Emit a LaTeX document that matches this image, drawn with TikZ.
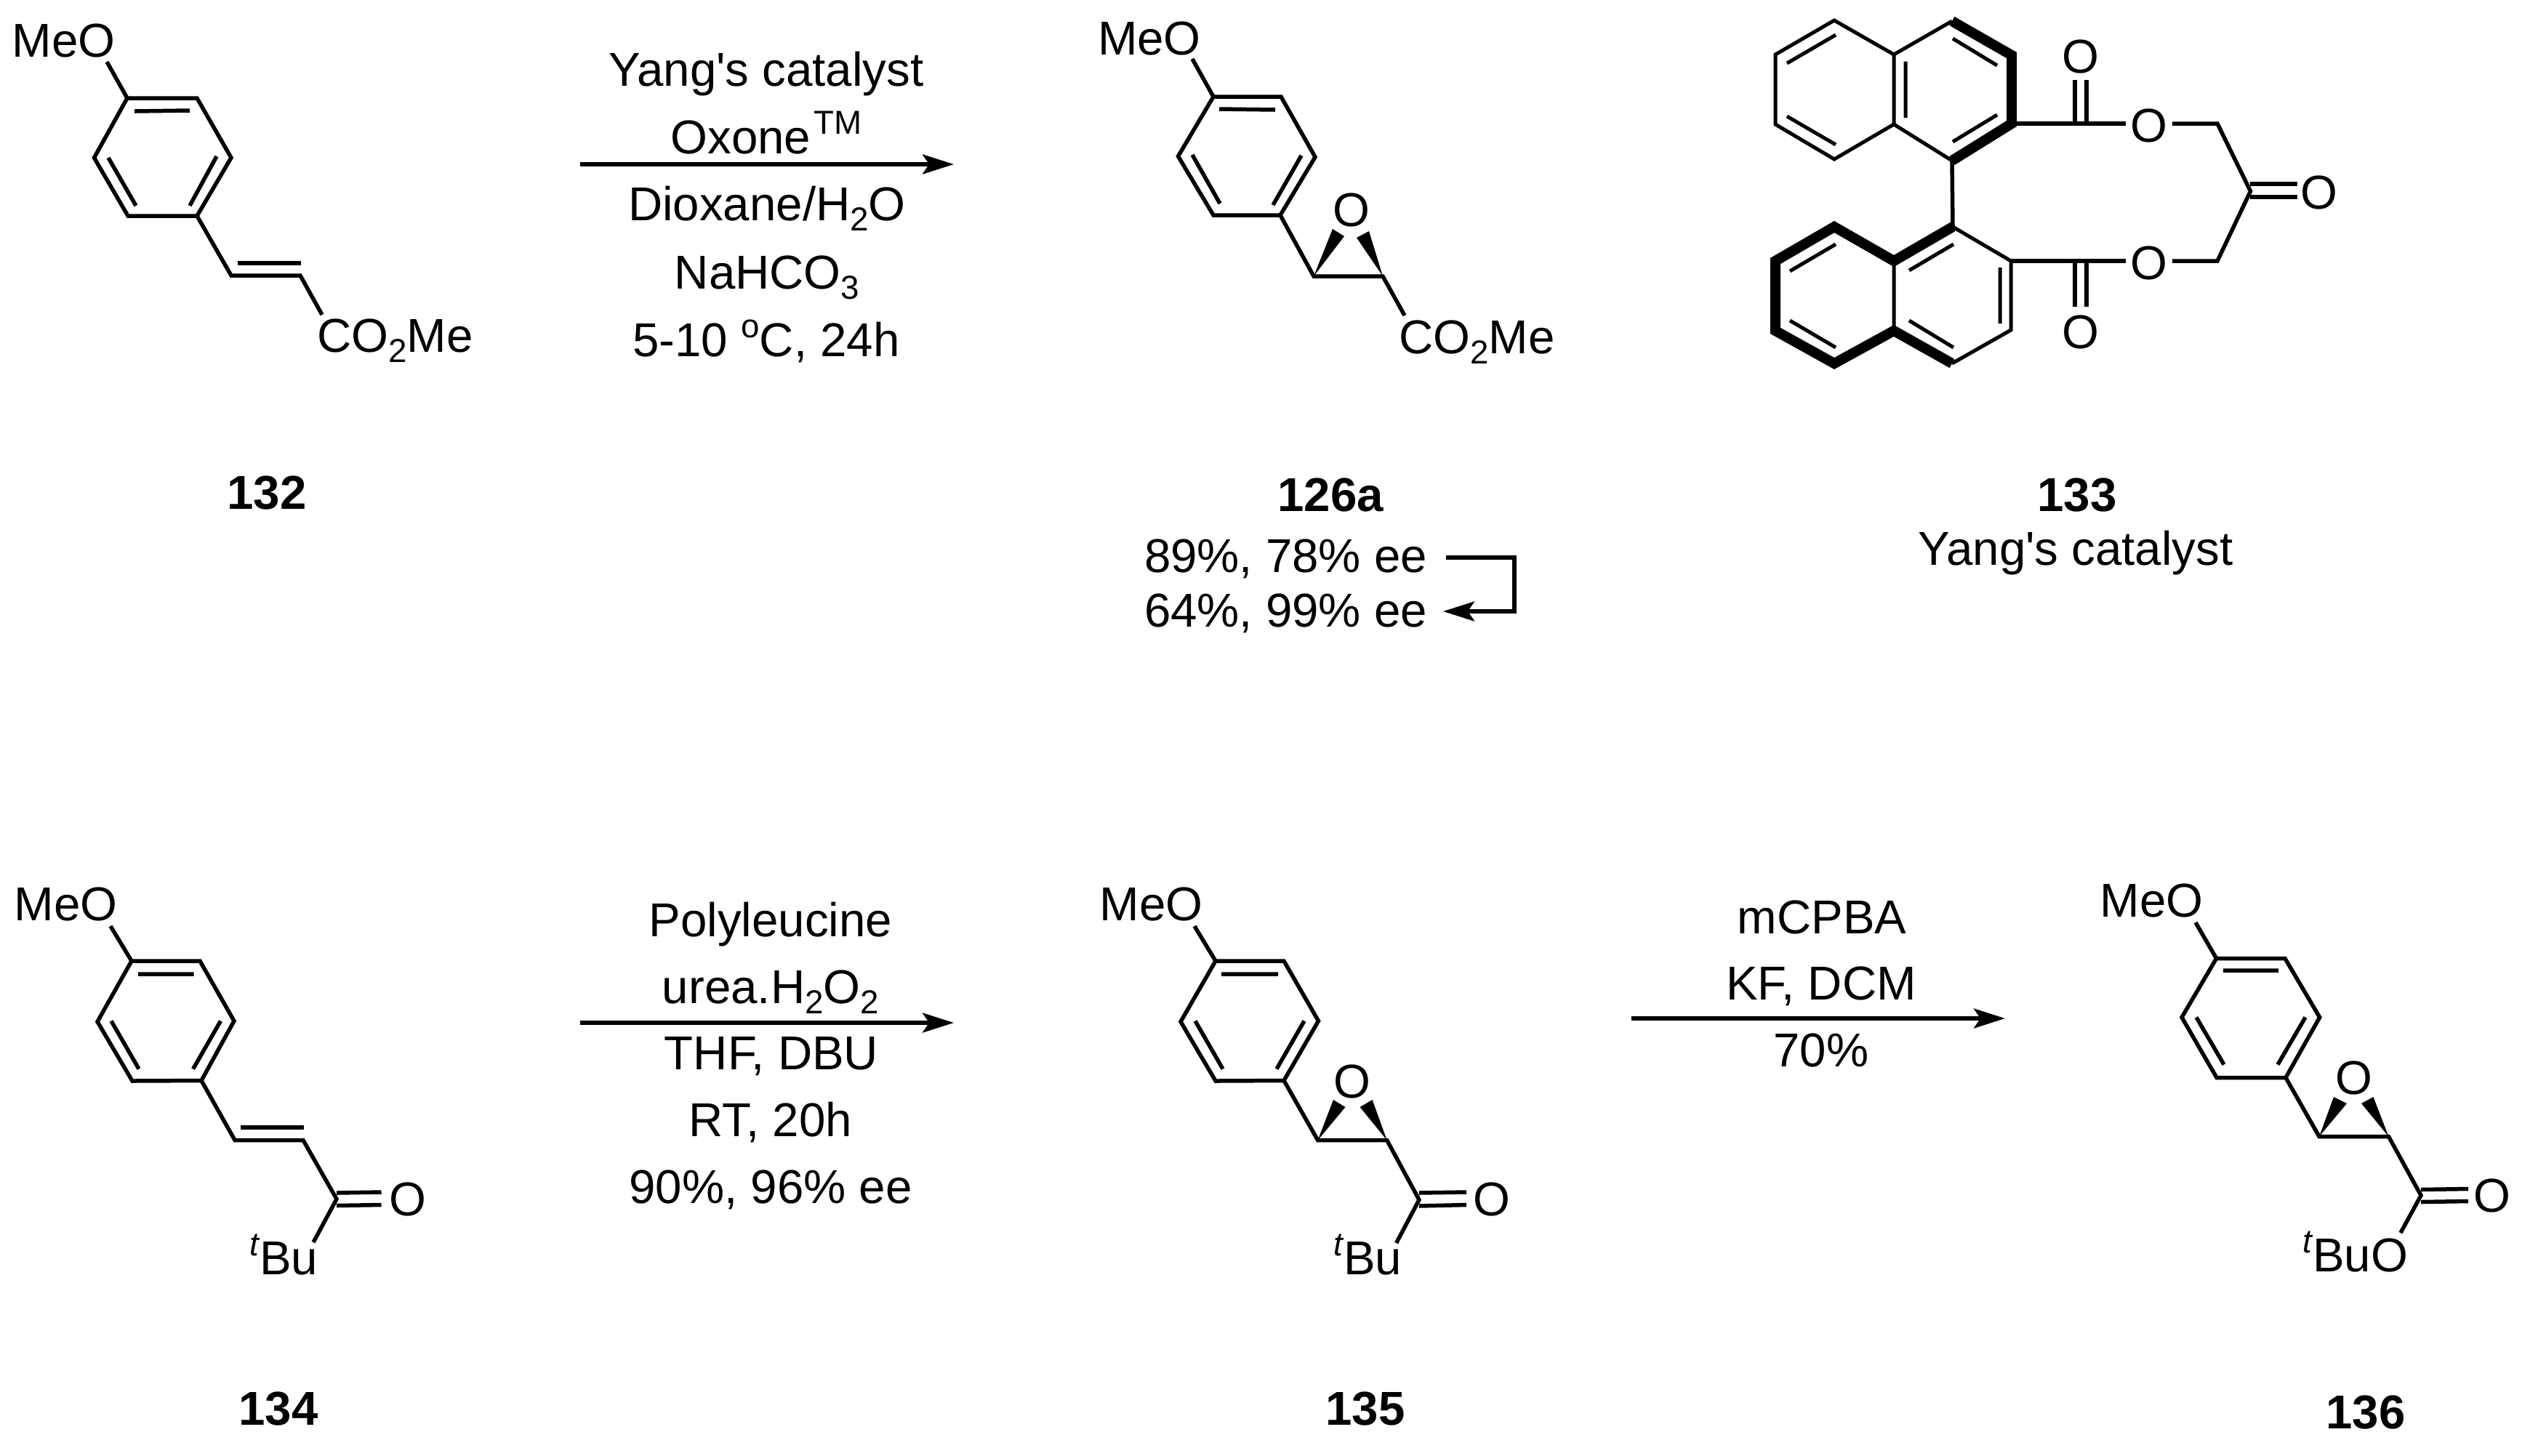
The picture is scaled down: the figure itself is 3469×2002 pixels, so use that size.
\documentclass[tikz,border=0pt]{standalone}
\usepackage{fontspec}
\setmainfont{Liberation Sans}
\font\qf="Liberation Sans" at 18.6pt
\newcommand{\apos}{{\qf '}}
\usetikzlibrary{arrows.meta}
\newcommand{\sbs}[1]{\raisebox{-0.14cm}{\fontsize{13}{14}\selectfont #1}}
\newcommand{\sps}[1]{\raisebox{0.26cm}{\fontsize{13}{14}\selectfont #1}}
\tikzset{
  bond/.style={line width=0.055cm,line cap=butt,line join=miter},
  thinb/.style={line width=0.05cm,line cap=butt,line join=miter},
  bold/.style={line width=0.14cm,line cap=butt,line join=miter,miter limit=10},
  wedge/.style={fill=black,draw=none},
  rxn/.style={line width=0.052cm,-{Stealth[length=0.43cm,width=0.27cm,inset=0.09cm]}},
  lab/.style={inner sep=0pt,outer sep=0pt,anchor=base,font=\fontsize{18.6}{20}\selectfont},
  labw/.style={lab,anchor=base west},
  cmpd/.style={lab,font=\fontsize{18.6}{20}\selectfont\bfseries}
}
\begin{document}
\begin{tikzpicture}[x=0.01cm,y=-0.01cm]
\path[fill=white,use as bounding box] (0,0) rectangle (3469,2002);

% ---------- 132 ----------
\coordinate (a1) at (175,135); \coordinate (a2) at (271,135); \coordinate (a3) at (318,217);
\coordinate (a4) at (271,297); \coordinate (a5) at (176,297); \coordinate (a6) at (129.5,217);
\coordinate (a7) at (318,379); \coordinate (a8) at (413,379); \coordinate (a9) at (443,433);
\coordinate (aO) at (147,85);
\draw[bond] (a1)--(a2)--(a3)--(a4)--(a5)--(a6)--cycle;
\draw[bond] (185,153)--(261,152) (149,217)--(187,283) (298,215)--(261,283);
\draw[bond] (aO)--(a1);
\draw[bond] (a4)--(a7)--(a8)--(a9);
\draw[bond] (327,362)--(414,362);
\node[labw] (ameo) at (17,78) {MeO};
\node[labw] (aco) at (436,484) {CO\sbs{2}Me};
\node[cmpd] (n132) at (367,700) {132};

% ---------- first arrow ----------
\coordinate (r1s) at (798,226); \coordinate (r1e) at (1312,226);
\draw[rxn] (r1s)--(r1e);
\node[lab] (t1a) at (1054,118) {Yang\apos s catalyst};
\node[lab] (t1b) at (1054,211) {Oxone\hspace{0.04cm}\sps{TM}};
\node[lab] (t1c) at (1055,303) {Dioxane/H\sbs{2}O};
\node[lab] (t1d) at (1055,397) {NaHCO\sbs{3}};
\node[lab] (t1e) at (1054,490) {5-10 \sps{o}C, 24h};

% ---------- 126a ----------
\coordinate (b1) at (1669,133); \coordinate (b2) at (1762,133); \coordinate (b3) at (1809,216);
\coordinate (b4) at (1761,296); \coordinate (b5) at (1669,296); \coordinate (b6) at (1620.5,215);
\coordinate (b7) at (1807,380); \coordinate (b8) at (1902,380); \coordinate (b9) at (1932,434);
\coordinate (bO) at (1640,81);
\draw[bond] (b1)--(b2)--(b3)--(b4)--(b5)--(b6)--cycle;
\draw[bond] (1677,150)--(1754,151) (1640,213)--(1678,280) (1790,214)--(1751,282);
\draw[bond] (bO)--(b1);
\draw[bond] (b4)--(b7)--(b8)--(b9);
\fill[wedge] (b7)--(1833,315)--(1849,325)--cycle;
\fill[wedge] (b8)--(1866,327)--(1883,318)--cycle;
\node[labw] (bmeo) at (1510,75) {MeO};
\node[lab] (box) at (1858.5,311) {O};
\node[labw] (bco) at (1924,486) {CO\sbs{2}Me};
\node[cmpd] (n126) at (1830,703) {126a};
\node[labw] (y1) at (1574,787) {89\%, 78\% ee};
\node[labw] (y2) at (1574,862) {64\%, 99\% ee};
\coordinate (c1) at (1989,767); \coordinate (c2) at (2083,767);
\coordinate (c3) at (2083,841); \coordinate (c4) at (1985,841);
\draw[rxn,line join=miter] (c1)--(c2)--(c3)--(c4);

% ---------- 133 ----------
\coordinate (u1) at (2523,28); \coordinate (u2) at (2442,75); \coordinate (u3) at (2442,171);
\coordinate (u4) at (2523,219); \coordinate (u5) at (2605,171); \coordinate (u6) at (2605,75);
\coordinate (u7) at (2685,29); \coordinate (u8) at (2767,76); \coordinate (u9) at (2767,170);
\coordinate (u10) at (2685,221);
\coordinate (l1) at (2523,312); \coordinate (l2) at (2442,359); \coordinate (l3) at (2442,455);
\coordinate (l4) at (2523,500); \coordinate (l5) at (2605,455); \coordinate (l6) at (2605,359);
\coordinate (l7) at (2686,312); \coordinate (l8) at (2766,359); \coordinate (l9) at (2766,454);
\coordinate (l10) at (2685,500);
\draw[thinb] (u6)--(u1)--(u2)--(u3)--(u4)--(u5)--cycle;
\draw[thinb] (u6)--(u7) (u5)--(u10);
\draw[bold] (u7)--(u8)--(u9)--(u10);
\draw[thinb] (2525,48)--(2458,87) (2458,160)--(2525,199) (2621,84.5)--(2621,162)
  (2686,53)--(2747,90) (2747,158)--(2686,195);
\draw[bond] (u10)--(l7);
\draw[bold] (l7)--(l6)--(l1)--(l2)--(l3)--(l4)--(l5)--(l10);
\draw[thinb] (l6)--(l5) (l7)--(l8)--(l9)--(l10);
\draw[thinb] (2525,336)--(2462,373) (2462,441)--(2525,478) (2687,336)--(2626,372)
  (2751,368)--(2751,445) (2626,441)--(2687,478);
% ester / ketone bridge
\coordinate (e1) at (2924,170); \coordinate (e2) at (2988,170); \coordinate (e3) at (3050,170);
\coordinate (e4) at (3095.5,263); \coordinate (e5) at (3050,359); \coordinate (e6) at (2988,359);
\coordinate (e7) at (2924,359);
\draw[bond] (u9)--(e1);
\draw[bond] (e2)--(e3)--(e4)--(e5)--(e6);
\draw[bond] (l8)--(e7);
\draw[bond] (2854,110)--(2854,170) (2870,110)--(2870,170);
\draw[bond] (2854,359)--(2854,422) (2870,359)--(2870,422);
\draw[bond] (3095,253)--(3160,253) (3095,271)--(3160,271);
\node[lab] (uoa) at (2862,100) {O};
\node[lab] (uob) at (2956,195) {O};
\node[lab] (lob) at (2956,384) {O};
\node[lab] (loa) at (2862,479) {O};
\node[lab] (koa) at (3190,287) {O};
\node[cmpd] (n133) at (2857,703) {133};
\node[lab] (ycat) at (2855,777) {Yang\apos s catalyst};

% ---------- 134 ----------
\coordinate (d1) at (181,1322); \coordinate (d2) at (275,1322); \coordinate (d3) at (322,1404.5);
\coordinate (d4) at (277,1486.5); \coordinate (d5) at (182,1487); \coordinate (d6) at (134,1405.5);
\coordinate (d7) at (323,1568.5); \coordinate (d8) at (417,1568.5); \coordinate (d9) at (463,1649.5);
\coordinate (dO) at (152,1274); \coordinate (dB) at (431,1709);
\draw[bond] (d1)--(d2)--(d3)--(d4)--(d5)--(d6)--cycle;
\draw[bond] (190,1340)--(266.5,1340) (153,1404.5)--(191,1470.5) (303.5,1404.5)--(265.6,1470.5);
\draw[bond] (dO)--(d1);
\draw[bond] (d4)--(d7)--(d8)--(d9)--(dB);
\draw[bond] (331,1551)--(418,1551);
\draw[bond] (463,1641)--(524.5,1640) (463,1658.5)--(524.5,1657.5);
\node[labw] (dmeo) at (20,1266) {MeO};
\node[labw] (dkO) at (535,1672.5) {O};
\node[labw] (dbu) at (343,1753.5) {\sps{\textit{t}}Bu};
\node[cmpd] (n134) at (383,1960) {134};

% ---------- second arrow ----------
\coordinate (r2s) at (798,1407); \coordinate (r2e) at (1312,1407);
\draw[rxn] (r2s)--(r2e);
\node[lab] (t2a) at (1060,1288) {Polyleucine};
\node[lab] (t2b) at (1060,1380) {urea.H\sbs{2}O\sbs{2}};
\node[lab] (t2c) at (1061,1471) {THF, DBU};
\node[lab] (t2d) at (1060,1563) {RT, 20h};
\node[lab] (t2e) at (1060,1655) {90\%, 96\% ee};

% ---------- 135 ----------
\coordinate (f1) at (1672,1322); \coordinate (f2) at (1766,1322); \coordinate (f3) at (1813.5,1404.5);
\coordinate (f4) at (1766,1486.5); \coordinate (f5) at (1672,1487); \coordinate (f6) at (1624,1405.5);
\coordinate (f7) at (1812.6,1568.5); \coordinate (f8) at (1907.7,1568.5); \coordinate (f9) at (1952,1650.5);
\coordinate (fO) at (1643,1274); \coordinate (fB) at (1920.6,1710);
\draw[bond] (f1)--(f2)--(f3)--(f4)--(f5)--(f6)--cycle;
\draw[bond] (1680,1340)--(1758,1340) (1644,1404.5)--(1682,1470.5) (1794,1404.5)--(1756,1470.5);
\draw[bond] (fO)--(f1);
\draw[bond] (f4)--(f7)--(f8)--(f9)--(fB);
\draw[bond] (1952,1641)--(2017,1640) (1952,1659)--(2017,1657.5);
\fill[wedge] (f7)--(1834,1513)--(1850.5,1523)--cycle;
\fill[wedge] (f8)--(1870.6,1523)--(1887.6,1513)--cycle;
\node[labw] (fmeo) at (1512.5,1266) {MeO};
\node[lab] (fox) at (1859.5,1510) {O};
\node[labw] (fkO) at (2026,1672.5) {O};
\node[labw] (fbu) at (1834,1753.5) {\sps{\textit{t}}Bu};
\node[cmpd] (n135) at (1878,1960) {135};

% ---------- third arrow ----------
\coordinate (r3s) at (2244,1401); \coordinate (r3e) at (2758,1401);
\draw[rxn] (r3s)--(r3e);
\node[lab] (t3a) at (2506,1284) {mCPBA};
\node[lab] (t3b) at (2505,1375) {KF, DCM};
\node[lab] (t3c) at (2505,1467) {70\%};

% ---------- 136 ----------
\coordinate (g1) at (3048.6,1318.5); \coordinate (g2) at (3143,1318.5); \coordinate (g3) at (3190.7,1399.5);
\coordinate (g4) at (3144,1482.5); \coordinate (g5) at (3049,1482.5); \coordinate (g6) at (3001,1399.5);
\coordinate (g7) at (3190,1563.5); \coordinate (g8) at (3285.5,1563.5); \coordinate (g9) at (3330,1644.5);
\coordinate (gO) at (3020,1269); \coordinate (gB) at (3302,1696);
\draw[bond] (g1)--(g2)--(g3)--(g4)--(g5)--(g6)--cycle;
\draw[bond] (3058,1335)--(3134,1335) (3021,1399.5)--(3059,1464.5) (3171,1399.5)--(3133,1464.5);
\draw[bond] (gO)--(g1);
\draw[bond] (g4)--(g7)--(g8)--(g9)--(gB);
\draw[bond] (3330,1636.5)--(3395,1635.5) (3330,1653.5)--(3395,1652.5);
\fill[wedge] (g7)--(3210,1509)--(3228,1518)--cycle;
\fill[wedge] (g8)--(3248,1518)--(3264.5,1509)--cycle;
\node[labw] (gmeo) at (2888.5,1261) {MeO};
\node[lab] (gox) at (3238,1505) {O};
\node[labw] (gkO) at (3402,1667.5) {O};
\node[labw] (gbu) at (3167,1749.5) {\sps{\textit{t}}BuO};
\node[cmpd] (n136) at (3254,1965) {136};
\end{tikzpicture}
\end{document}
